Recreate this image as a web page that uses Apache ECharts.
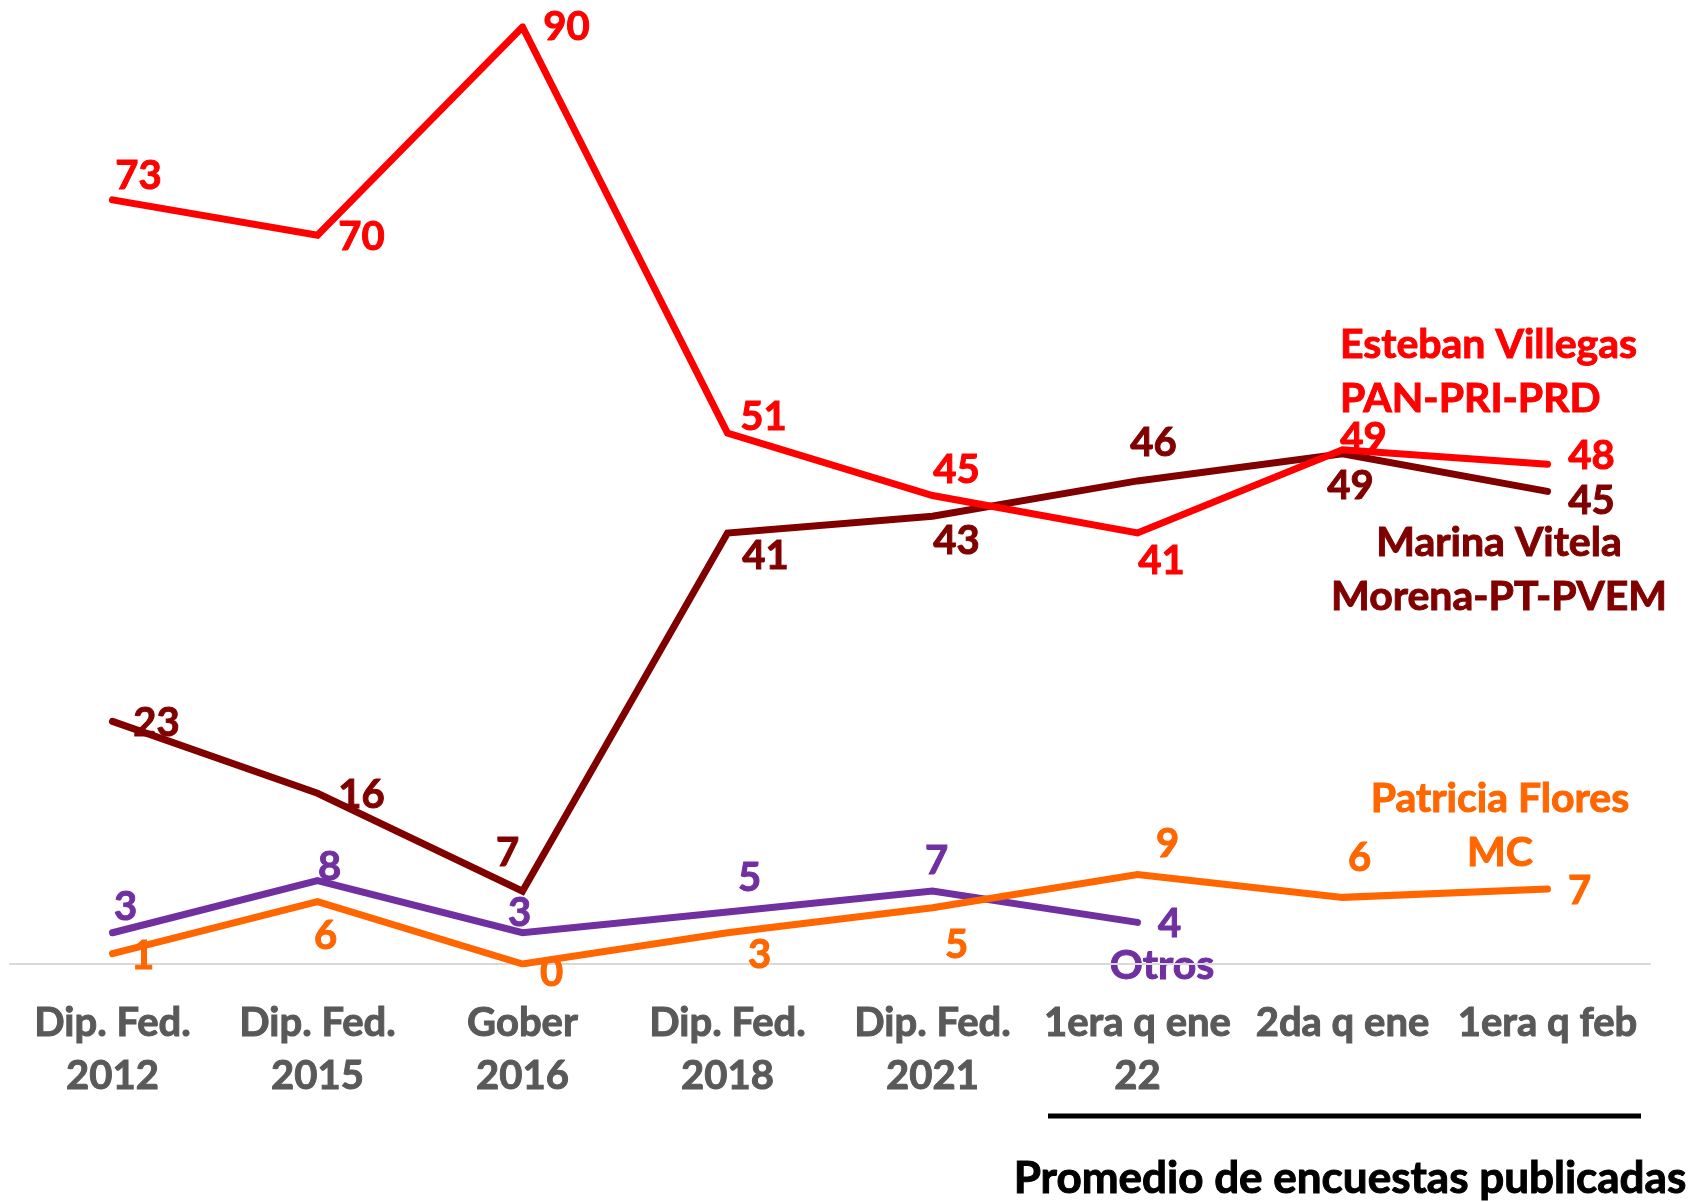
<!DOCTYPE html>
<html lang="es">
<head>
<meta charset="UTF-8">
<title>Durango</title>
<style>
  html, body { margin: 0; padding: 0; background: #fff; }
  #main { width: 1707px; height: 1202px; }
</style>
</head>
<body>
<div id="main"></div>
<script src="https://cdn.jsdelivr.net/npm/echarts@6/dist/echarts.min.js"></script>
<script>
// categorias del eje x
var categorias = ['Dip. Fed.\n2012', 'Dip. Fed.\n2015', 'Gober\n2016', 'Dip. Fed.\n2018',
    'Dip. Fed.\n2021', '1era q ene\n22', '2da q ene', '1era q feb'];

// valores
var villegas = [73.4, 70, 90, 51, 45, 41.4, 49.4, 48];
var vitela   = [23.3, 16.4, 7, 41.4, 43, 46.4, 49, 45.4];
var flores   = [1, 6, 0, 3, 5.4, 8.6, 6.4, 7.2];
var otros    = [3, 8, 3, 5, 7, 4, null, null];

// desplazamiento de cada etiqueta respecto a su punto
var offVillegas = [[26,-24],[44,2],[44,0],[36,-16],[24,-25],[24,28],[21,-12],[44,-8]];
var offVitela   = [[44,2],[44,2],[-15,-38],[38,23],[24,25],[16,-38],[8,32],[44,10]];
var offFlores   = [[30,3],[8,35],[29,9],[32,22],[24,37],[30,-30],[17,-39],[32,2]];
var offOtros    = [[13,-26],[12,-14],[-3,-20],[22,-34],[4,-30],[32,2]];

var FONT = 'Lato';

function conEtiquetas(vals, offs) {
    return vals.map(function (v, i) {
        if (v == null) return null;
        return { value: v, label: { offset: offs[i] } };
    });
}

function serie(nombre, vals, offs, color) {
    return {
        name: nombre,
        type: 'line',
        data: conEtiquetas(vals, offs),
        symbol: 'circle',
        symbolSize: 1,
        itemStyle: { color: color },
        lineStyle: { color: color, width: 7, cap: 'round', join: 'miter' },
        label: {
            show: true,
            position: 'inside',
            color: color,
            fontFamily: FONT,
            fontWeight: 'bold',
            fontSize: 40,
            textBorderColor: color,
            textBorderWidth: 1,
            formatter: function (p) { return Math.round(p.value); }
        },
        animation: false
    };
}

// texto libre (leyendas junto a las lineas)
function texto(str, x, y, color, size, align) {
    return {
        type: 'text', x: x, y: y,
        style: {
            text: str, fill: color, font: 'bold ' + size + 'px Lato', lineHeight: 54,
            align: align, verticalAlign: 'middle', stroke: color, lineWidth: 1
        }
    };
}

var myChart = echarts.init(document.getElementById('main'));

var option = {
    backgroundColor: '#fff',
    grid: { left: 10, right: 57, top: 27, bottom: 238 },
    xAxis: {
        type: 'category',
        data: categorias,
        axisLine: { lineStyle: { color: '#d9d9d9', width: 2 } },
        axisTick: { show: false },
        axisLabel: {
            color: '#595959',
            fontFamily: FONT,
            fontWeight: 'bold',
            fontSize: 40,
            lineHeight: 53,
            margin: 33,
            interval: 0,
            textBorderColor: '#595959',
            textBorderWidth: 1
        }
    },
    yAxis: {
        type: 'value',
        min: 0,
        max: 90,
        show: false,
        splitLine: { show: false }
    },
    series: [
        serie('Otros', otros, offOtros, '#7030a0'),
        serie('Patricia Flores MC', flores, offFlores, '#ff6600'),
        serie('Marina Vitela Morena-PT-PVEM', vitela, offVitela, '#800000'),
        serie('Esteban Villegas PAN-PRI-PRD', villegas, offVillegas, '#ff0000')
    ],
    graphic: [
        texto('Esteban Villegas\nPAN-PRI-PRD', 1340, 372, '#ff0000', 41, 'left'),
        texto('Marina Vitela\nMorena-PT-PVEM', 1499, 570, '#800000', 41, 'center'),
        texto('Patricia Flores\nMC', 1500, 826, '#ff6600', 41, 'center'),
        texto('Otros', 1162, 966, '#7030a0', 41, 'center'),
        { type: 'line', shape: { x1: 1048, y1: 1116, x2: 1641, y2: 1116 },
            style: { stroke: '#000', lineWidth: 5 } },
        texto('Promedio de encuestas publicadas', 1350, 1179, '#000', 44, 'center')
    ]
};

myChart.setOption(option);
</script>
</body>
</html>
